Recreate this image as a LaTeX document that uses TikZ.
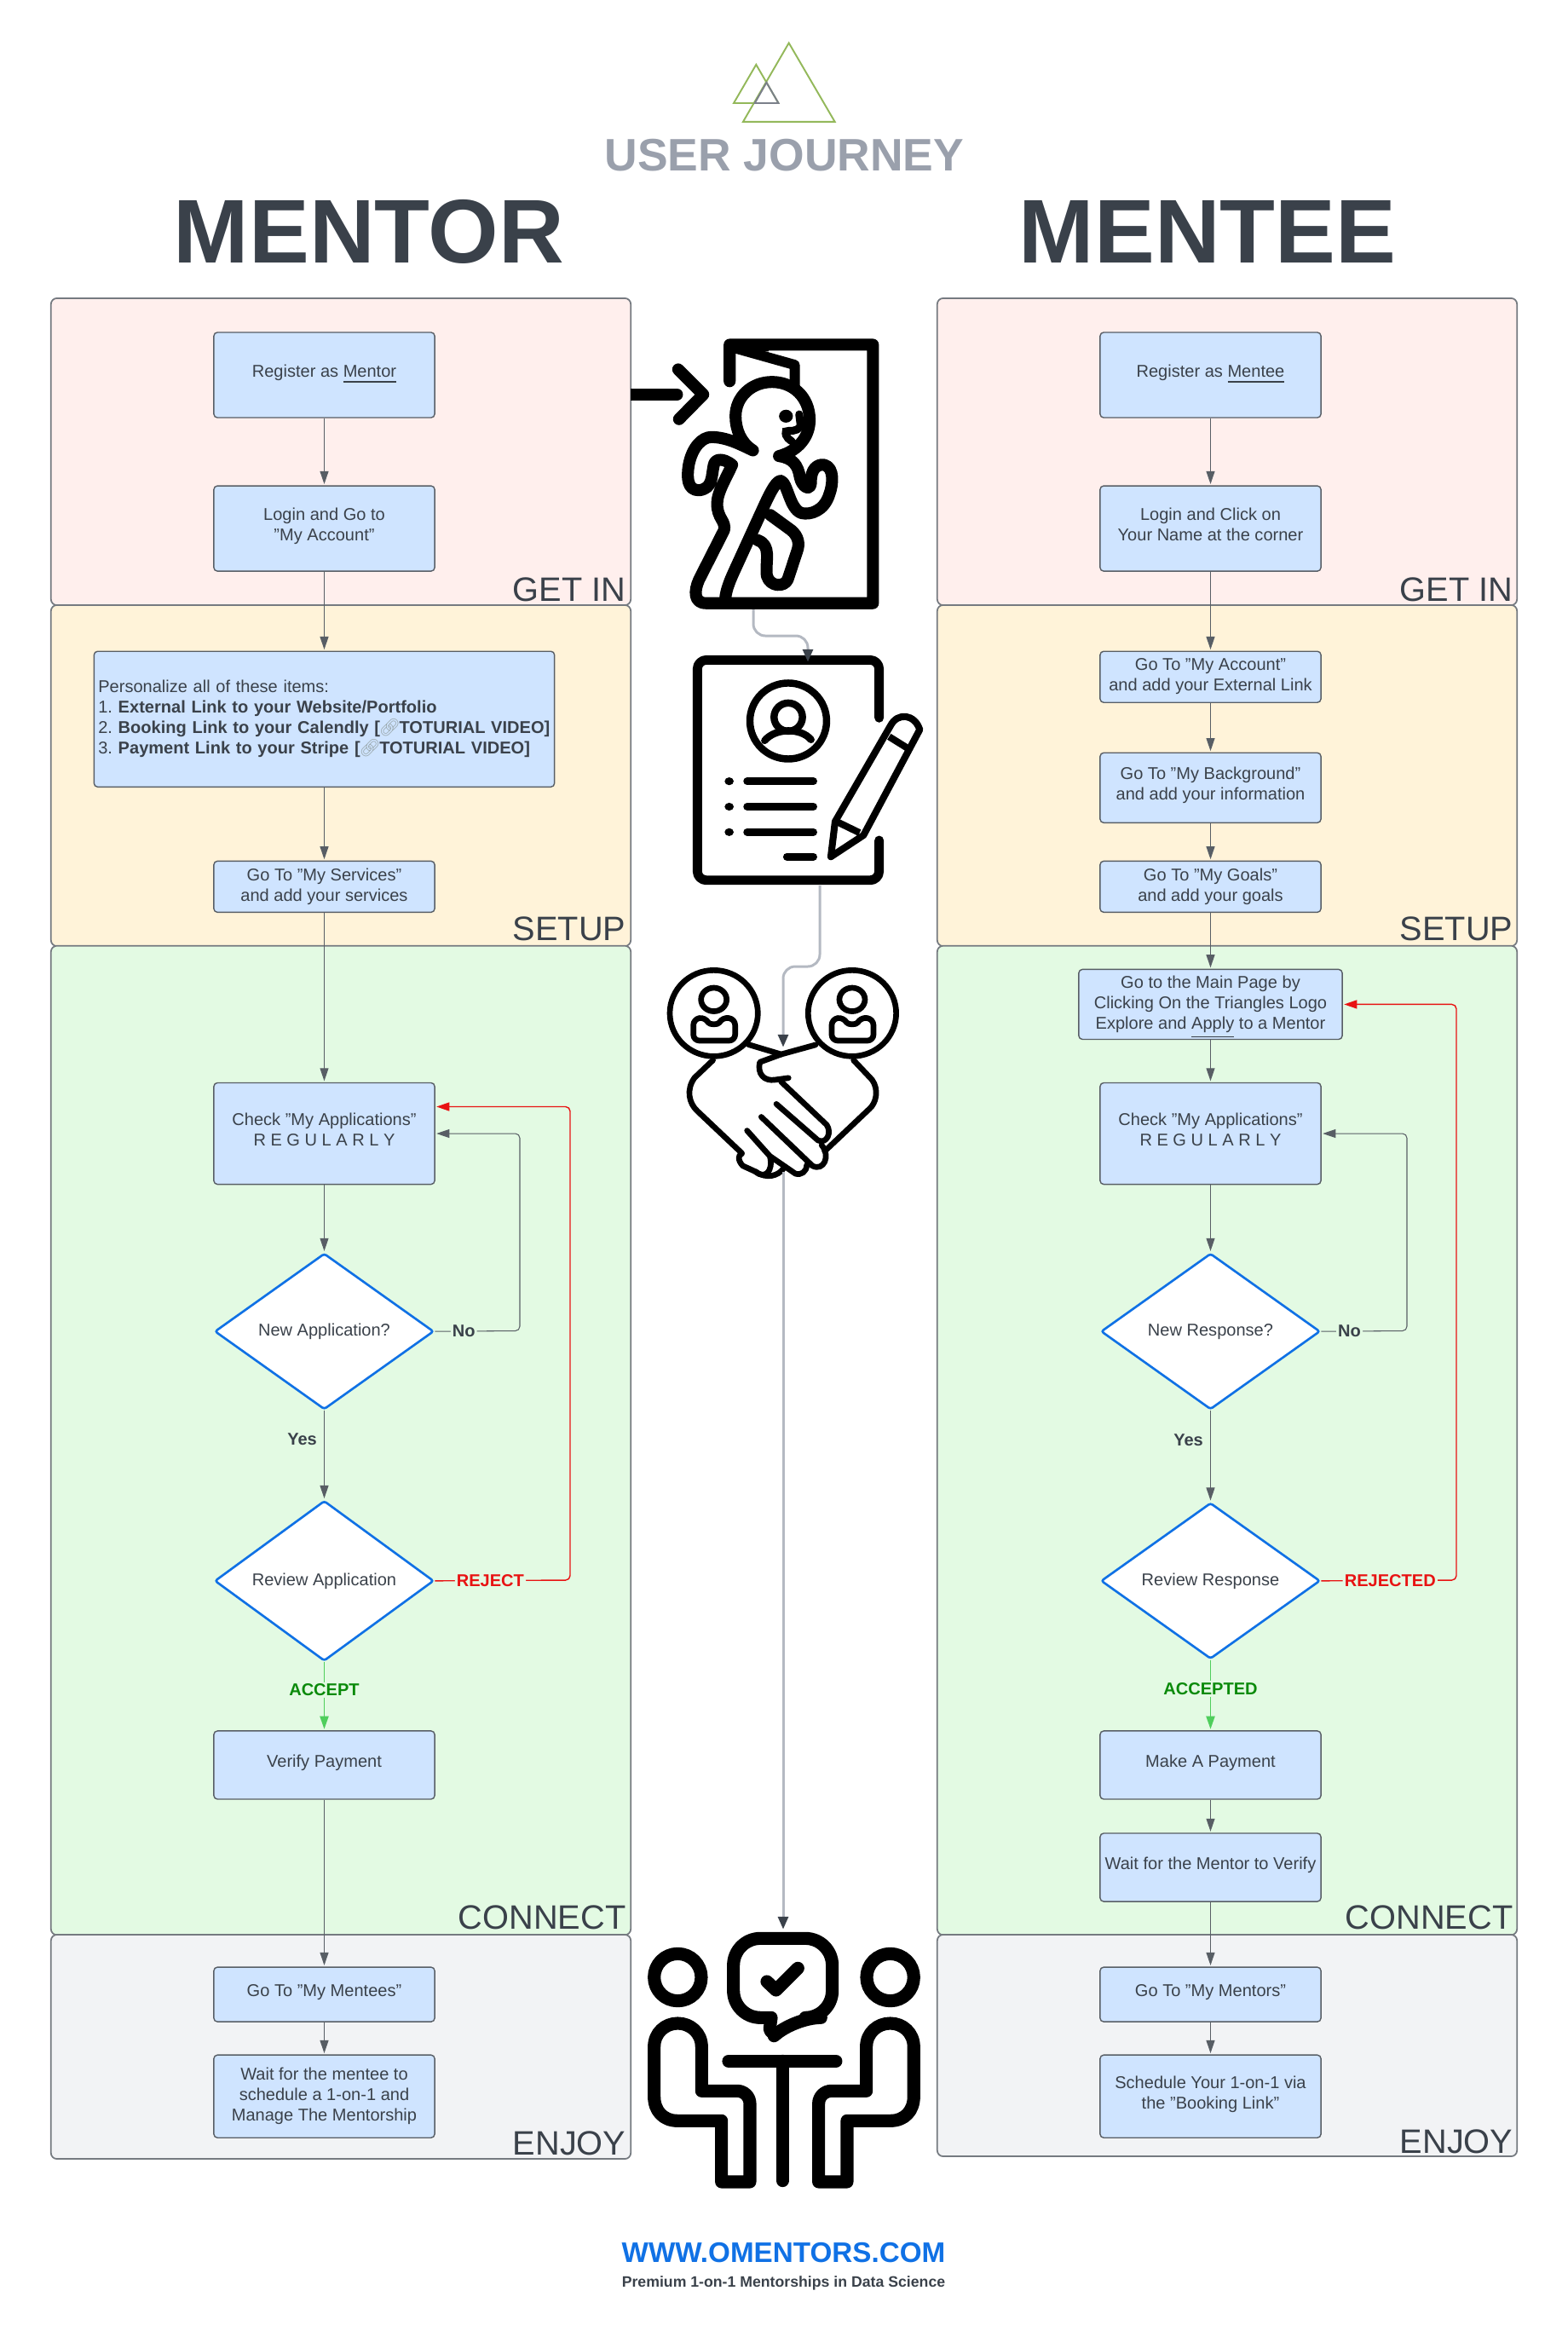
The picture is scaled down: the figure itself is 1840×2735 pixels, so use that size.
\documentclass[tikz,border=0pt]{standalone}
\usepackage{fontspec}
\setmainfont{Liberation Sans}
\newfontfamily\emojifont{Noto Emoji}
\usetikzlibrary{arrows.meta,positioning,shapes.geometric}
\frenchspacing

\definecolor{inkdark}{HTML}{3A414A}
\definecolor{inkgrey}{HTML}{9AA0AC}
\definecolor{linegrey}{HTML}{B4B9C2}
\definecolor{boxblue}{HTML}{CFE4FF}
\definecolor{webblue}{HTML}{1071E5}
\definecolor{getinfill}{HTML}{FFEFED}
\definecolor{setupfill}{HTML}{FFF3D9}
\definecolor{connectfill}{HTML}{E3FAE3}
\definecolor{enjoyfill}{HTML}{F2F3F5}
\definecolor{rejectred}{HTML}{E81313}
\definecolor{acceptlight}{HTML}{4FCE5C}
\definecolor{acceptdark}{HTML}{0A8A0A}
\definecolor{logogreen}{HTML}{93B85A}
\definecolor{chaingrey}{HTML}{9AA8AC}

\newcommand{\chain}{\makebox[6.4pt][c]{\emojifont\mdseries\color{chaingrey}\symbol{"1F517}}}

\begin{document}
\begin{tikzpicture}[x=0.01cm,y=-0.01cm,on grid,>={Triangle[length=4.3pt,width=2.85pt]},shorten >=0.4pt]
  \tikzstyle{panel}=[draw=inkdark!70,line width=0.5pt,rounded corners=2pt,inner sep=0pt,outer sep=0pt,minimum width=6.8cm,shorten >=0pt]
  \tikzstyle{phase}=[anchor=base east,inner sep=0pt,text=inkdark,font=\fontsize{11.3}{12}\selectfont]
  \tikzstyle{flowbox}=[draw=inkdark!85,fill=boxblue,line width=0.4pt,rounded corners=1.2pt,minimum width=2.59cm,inner sep=1pt,text depth=2.6pt,
    align=center,text=inkdark,font=\fontsize{5.7}{6.83}\selectfont]
  \tikzstyle{slimbox}=[flowbox,text depth=1.4pt]
  \tikzstyle{decide}=[diamond,draw=webblue,fill=white,line width=0.75pt,rounded corners=0.8pt,minimum width=2.57cm,minimum height=1.83cm,inner sep=0pt,
    align=center,text=inkdark,font=\fontsize{5.7}{6.83}\selectfont]
  \tikzstyle{flow}=[draw=inkdark!85,line width=0.3pt,->]
  \tikzstyle{rejectflow}=[draw=rejectred,line width=0.4pt,->,rounded corners=1.5pt]
  \tikzstyle{acceptflow}=[draw=acceptlight,line width=0.55pt,->]
  \tikzstyle{iconflow}=[draw=linegrey,line width=0.85pt,rounded corners=4pt,-{Triangle[length=4.2pt,width=3.4pt,color=inkdark]}]
  \tikzstyle{choice}=[inner sep=0.6pt,text=inkdark,font=\bfseries\fontsize{5.7}{6.83}\selectfont]
  \tikzstyle{icon}=[line width=4pt,line cap=round,line join=round]

  \useasboundingbox (0,0) rectangle (1840,2735);

  % title
  \draw[logogreen,line width=0.55pt] (925.7,50.4) -- (979.6,142.8) -- (872,142.8) -- cycle;
  \draw[logogreen,line width=0.55pt] (887.3,75.8) -- (913.5,121) -- (861,121) -- cycle;
  \draw[inkgrey!80!black,line width=0.55pt] (899.5,96.8) -- (913.5,121) -- (885.7,121) -- cycle;
  \node[text=inkgrey,font=\bfseries\fontsize{15.2}{16}\selectfont,anchor=base,inner sep=0pt] (title) at (920.5,200) {USER JOURNEY};
  \node[text=inkdark,font=\bfseries\fontsize{30.2}{32}\selectfont,anchor=base,inner sep=0pt] (mentor) at (433,308) {MENTOR};
  \node[text=inkdark,font=\bfseries\fontsize{30.2}{32}\selectfont,anchor=base,inner sep=0pt] (mentee) at (1417,308) {MENTEE};

  % phase panels
  \node[panel,fill=getinfill,minimum height=3.6cm] (getinL) at (400,530) {};
  \node[panel,fill=setupfill,minimum height=4cm] (setupL) at (400,910) {};
  \node[panel,fill=connectfill,minimum height=11.6cm] (connectL) at (400,1690) {};
  \node[panel,fill=enjoyfill,minimum height=2.63cm] (enjoyL) at (400,2401.5) {};
  \node[panel,fill=getinfill,minimum height=3.6cm] (getinR) at (1440,530) {};
  \node[panel,fill=setupfill,minimum height=4cm] (setupR) at (1440,910) {};
  \node[panel,fill=connectfill,minimum height=11.6cm] (connectR) at (1440,1690) {};
  \node[panel,fill=enjoyfill,minimum height=2.6cm] (enjoyR) at (1440,2400) {};

  \node[phase] (getinLtxt) at (735,705) {GET IN};
  \node[phase] (setupLtxt) at (735,1103) {SETUP};
  \node[phase] (connectLtxt) at (735,2263) {CONNECT};
  \node[phase] (enjoyLtxt) at (735,2528) {ENJOY};
  \node[phase] (getinRtxt) at (1776,705) {GET IN};
  \node[phase] (setupRtxt) at (1776,1103) {SETUP};
  \node[phase] (connectRtxt) at (1776,2263) {CONNECT};
  \node[phase] (enjoyRtxt) at (1776,2526) {ENJOY};

  % mentor column
  \node[flowbox,minimum height=1cm] (registerL) at (380.5,440) {Register as \underline{Mentor}};
  \node[flowbox,minimum height=1cm,below=1.8cm of registerL] (loginL) {Login and Go to\\"My Account"};
  \node[flowbox,minimum height=1.59cm,text depth=,inner xsep=0.05cm,text width=5.3cm,align=left,below=2.235cm of loginL] (itemsL)
    {Personalize all of these items:\\
     1. \textbf{External Link to your Website/Portfolio}\\
     2. \textbf{Booking Link to your Calendly [\chain{}TOTURIAL VIDEO]}\\
     3. \textbf{Payment Link to your Stripe [\chain{}TOTURIAL VIDEO]}};
  \node[slimbox,minimum height=0.6cm,below=1.965cm of itemsL] (servicesL) {Go To "My Services"\\and add your services};
  \node[flowbox,minimum height=1.19cm,below=2.895cm of servicesL] (checkL) {Check "My Applications"\\R E G U L A R L Y};
  \node[decide,below=2.32cm of checkL] (newL) {New Application?};
  \node[decide,below=2.925cm of newL] (reviewL) {Review Application};
  \node[flowbox,minimum height=0.8cm,below=2.16cm of reviewL] (verifyL) {Verify Payment};
  \node[flowbox,minimum height=0.64cm,below=2.69cm of verifyL] (menteesL) {Go To "My Mentees"};
  \node[slimbox,minimum height=0.97cm,below=1.195cm of menteesL] (waitL) {Wait for the mentee to\\schedule a 1-on-1 and\\Manage The Mentorship};

  % mentee column
  \node[flowbox,minimum height=1cm] (registerR) at (1420.5,440) {Register as \underline{Mentee}};
  \node[flowbox,minimum height=1cm,below=1.8cm of registerR] (loginR) {Login and Click on\\Your Name at the corner};
  \node[slimbox,minimum height=0.6cm,below=1.74cm of loginR] (accountR) {Go To "My Account"\\and add your External Link};
  \node[flowbox,minimum height=0.82cm,below=1.3cm of accountR] (backgroundR) {Go To "My Background"\\and add your information};
  \node[slimbox,minimum height=0.6cm,below=1.16cm of backgroundR] (goalsR) {Go To "My Goals"\\and add your goals};
  \node[slimbox,minimum height=0.82cm,minimum width=3.09cm,below=1.38cm of goalsR] (mainR)
    {Go to the Main Page by\\Clicking On the Triangles Logo\\Explore and \underline{Apply} to a Mentor};
  \node[flowbox,minimum height=1.19cm,below=1.515cm of mainR] (checkR) {Check "My Applications"\\R E G U L A R L Y};
  \node[decide,below=2.32cm of checkR] (newR) {New Response?};
  \node[decide,below=2.925cm of newR] (reviewR) {Review Response};
  \node[flowbox,minimum height=0.8cm,below=2.16cm of reviewR] (paymentR) {Make A Payment};
  \node[flowbox,minimum height=0.8cm,below=1.2cm of paymentR] (waitmentorR) {Wait for the Mentor to Verify};
  \node[flowbox,minimum height=0.64cm,below=1.49cm of waitmentorR] (mentorsR) {Go To "My Mentors"};
  \node[flowbox,minimum height=0.97cm,below=1.195cm of mentorsR] (scheduleR) {Schedule Your 1-on-1 via\\the "Booking Link"};

  \coordinate (noturnL) at (610,1561.5);
  \coordinate (rejectturnL) at (669,1854);
  \coordinate (noturnR) at (1651,1561.5);
  \coordinate (rejectturnR) at (1709,1854);

  % mentor connectors
  \draw[flow] (registerL) -- (loginL);
  \draw[flow] (loginL) -- (itemsL);
  \draw[flow] (itemsL) -- (servicesL);
  \draw[flow] (servicesL) -- (checkL);
  \draw[flow] (checkL) -- (newL);
  \draw[flow] (newL) -- node[choice,pos=.32,left=.06cm] {Yes} (reviewL);
  \draw[acceptflow] (reviewL) -- node[choice,pos=.41,fill=connectfill,text=acceptdark] {ACCEPT} (verifyL);
  \draw[flow,rounded corners=1.5pt] (newL.east) -- node[choice,pos=.34,fill=connectfill] {No} (noturnL) |- (checkL.east);
  \draw[rejectflow] (reviewL.east) -- node[choice,pos=.41,fill=connectfill,text=rejectred] {REJECT} (rejectturnL) |- ([yshift=0.315cm]checkL.east);
  \draw[flow] (verifyL) -- (menteesL);
  \draw[flow] (menteesL) -- (waitL);

  % mentee connectors
  \draw[flow] (registerR) -- (loginR);
  \draw[flow] (loginR) -- (accountR);
  \draw[flow] (accountR) -- (backgroundR);
  \draw[flow] (backgroundR) -- (goalsR);
  \draw[flow] (goalsR) -- (mainR);
  \draw[flow] (mainR) -- (checkR);
  \draw[flow] (checkR) -- (newR);
  \draw[flow] (newR) -- node[choice,pos=.32,left=.06cm] {Yes} (reviewR);
  \draw[acceptflow] (reviewR) -- node[choice,pos=.41,fill=connectfill,text=acceptdark] {ACCEPTED} (paymentR);
  \draw[flow,rounded corners=1.5pt] (newR.east) -- node[choice,pos=.33,fill=connectfill] {No} (noturnR) |- (checkR.east);
  \draw[rejectflow] (reviewR.east) -- node[choice,pos=.51,fill=connectfill,text=rejectred] {REJECTED} (rejectturnR) |- (mainR.east);
  \draw[flow] (paymentR) -- (waitmentorR);
  \draw[flow] (waitmentorR) -- (mentorsR);
  \draw[flow] (mentorsR) -- (scheduleR);

  % door icon
  \begin{scope}[shift={(600,20)},xscale=0.408,yscale=0.446]
    \draw[icon,line cap=butt] (343,993) -- (400,993);
    \draw[icon] (400,993) -- (480,993);
    \draw[icon] (480,927) -- (552,993) -- (480,1060);
    \draw[icon] (628,958) -- (628,862) -- (1040,862) -- (1040,1542) -- (560,1542)
      .. controls (525,1542) and (525,1510) .. (540,1480) -- (612,1350)
      .. controls (618,1325) and (592,1320) .. (592,1280) .. controls (592,1250) and (620,1210) .. (635,1178)
      .. controls (610,1160) and (585,1160) .. (582,1180) .. controls (575,1210) and (580,1240) .. (540,1245)
      .. controls (505,1245) and (505,1210) .. (510,1180) .. controls (520,1130) and (550,1105) .. (575,1105)
      .. controls (620,1105) and (660,1125) .. (695,1140)
      .. controls (660,1120) and (645,1085) .. (645,1050) .. controls (645,1000) and (690,960) .. (750,960)
      .. controls (810,960) and (858,1000) .. (858,1060) .. controls (858,1100) and (830,1140) .. (770,1155)
      .. controls (810,1160) and (825,1180) .. (830,1210) .. controls (835,1235) and (860,1250) .. (862,1225)
      .. controls (860,1190) and (880,1175) .. (900,1178) .. controls (930,1185) and (925,1230) .. (915,1255)
      .. controls (900,1300) and (860,1310) .. (835,1305) .. controls (800,1295) and (795,1225) .. (775,1220)
      .. controls (760,1220) and (740,1260) .. (720,1300) -- (640,1460) .. controls (625,1490) and (615,1515) .. (615,1542);
    \draw[icon] (745,1310) -- (805,1350) .. controls (825,1365) and (830,1385) .. (822,1405) -- (795,1480)
      .. controls (785,1500) and (745,1500) .. (735,1470) .. controls (730,1430) and (750,1390) .. (705,1375);
    \draw[icon,line width=3.4pt] (640,870) -- (815,915) -- (815,975);
    \fill[icon] (628,862) -- (740,862) -- (740,880) -- (640,880) -- cycle;
    \fill (790,1050) circle[x radius=20,y radius=17];
    \draw[line width=2.6pt,line cap=round] (828,1045) -- (832,1075) .. controls (820,1095) and (800,1085) .. (790,1090) .. controls (785,1105) and (805,1115) .. (810,1118);
  \end{scope}
  \coordinate (doorfoot) at (884,715);

  % form icon
  \begin{scope}[shift={(740,700)},xscale=0.3333,yscale=0.459]
    \draw[icon,line width=3.1pt,rounded corners=3pt] (875,310) -- (875,162) -- (235,162) -- (235,725) -- (875,725) -- (875,620);
    \draw[icon,line width=2.4pt] (555,318) circle[x radius=135,y radius=97];
    \draw[icon,line width=2.4pt] (555,308) circle[x radius=50,y radius=36];
    \draw[icon,line width=2.4pt] (472,368) .. controls (510,335) and (600,335) .. (638,368);
    \foreach \rowy in {472,537,602} {
      \fill (347,\rowy) circle[x radius=16,y radius=10];
      \draw[icon,line width=2.5pt] (410,\rowy) -- (648,\rowy);
    }
    \draw[icon,line width=2.5pt] (550,665) -- (648,665);
    \draw[icon,line width=2.3pt] (705,665) -- (720,575) -- (915,330) .. controls (940,295) and (1000,300) .. (1018,340)
      -- (820,610) -- cycle;
    \draw[icon,line width=2.3pt,line cap=butt] (725,575) -- (810,605);
    \draw[icon,line width=2.3pt,line cap=butt] (910,358) -- (985,392);
  \end{scope}
  \coordinate (formhead) at (948,778);
  \coordinate (formfoot) at (962,1039);
  \coordinate (formbend) at (919,1134);

  % handshake icon
  \begin{scope}[shift={(740,700)},xscale=0.3333,yscale=0.459]
    \foreach \peerx in {293,780} {
      \draw[icon,line width=1.9pt] (\peerx,1065) circle[x radius=155,y radius=110];
      \draw[icon,line width=1.9pt] (\peerx,1030) circle[x radius=45,y radius=30];
      \draw[icon,line width=1.9pt,rounded corners=2pt] (\peerx-72,1135) -- (\peerx-72,1080) -- (\peerx-30,1075)
        .. controls (\peerx-15,1095) and (\peerx+15,1095) .. (\peerx+30,1075) -- (\peerx+75,1080) -- (\peerx+75,1135) -- cycle;
    }
    \draw[icon,line width=1.9pt] (415,1145) -- (530,1170) -- (655,1145);
    \draw[icon,line width=1.9pt] (290,1185) -- (225,1230) .. controls (195,1260) and (205,1295) .. (235,1315) -- (395,1425);
    \draw[icon,line width=1.9pt] (785,1185) -- (850,1235) .. controls (875,1260) and (865,1295) .. (840,1310) -- (680,1420);
    \draw[icon,line width=1.9pt] (530,1170) -- (455,1190) .. controls (445,1220) and (470,1240) .. (510,1235) -- (560,1230);
    \draw[icon,line width=1.9pt] (530,1240) -- (690,1350) .. controls (710,1370) and (690,1400) .. (660,1390) -- (510,1295);
    \draw[icon,line width=1.9pt] (460,1330) -- (640,1455) .. controls (680,1470) and (705,1430) .. (670,1400);
    \draw[icon,line width=1.9pt] (410,1365) -- (490,1430) .. controls (505,1470) and (470,1490) .. (440,1470) -- (395,1455) .. controls (375,1440) and (380,1425) .. (395,1425);
    \draw[icon,line width=1.9pt] (490,1430) -- (580,1475) .. controls (600,1480) and (620,1470) .. (620,1450);
    \draw[icon,line width=1.9pt] (440,1470) .. controls (480,1490) and (520,1480) .. (540,1460);
  \end{scope}
  \coordinate (shakehead) at (919,1230);
  \coordinate (shakefoot) at (919,1375);

  % meeting icon
  \begin{scope}[shift={(720,2220)},scale=0.3333]
    \tikzstyle{meet}=[icon,line width=4.3pt]
    \draw[meet] (226,300) circle[radius=83];
    \draw[meet] (974,300) circle[radius=83];
    \draw[meet,rounded corners=9pt] (555,442) -- (422,442) -- (422,163) -- (770,163) -- (770,442) -- (635,442) -- (575,497);
    \draw[meet] (575,497) .. controls (560,500) and (550,490) .. (550,480) -- (555,442);
    \draw[meet] (540,315) -- (572,345) -- (652,265);
    \draw[meet] (405,595) -- (787,595);
    \draw[meet] (595,595) -- (595,1020);
    \draw[meet] (310,700) -- (310,545) .. controls (310,495) and (270,462) .. (226,462) .. controls (182,462) and (143,495) .. (143,545)
      -- (143,720) .. controls (143,770) and (175,805) .. (225,805) -- (380,805) -- (380,1020) -- (480,1020)
      -- (480,745) .. controls (480,720) and (460,700) .. (435,700) -- cycle;
    \draw[meet] (890,700) -- (890,545) .. controls (890,495) and (930,462) .. (974,462) .. controls (1018,462) and (1057,495) .. (1057,545)
      -- (1057,720) .. controls (1057,770) and (1025,805) .. (975,805) -- (822,805) -- (822,1020) -- (722,1020)
      -- (722,745) .. controls (722,720) and (742,700) .. (767,700) -- cycle;
  \end{scope}
  \coordinate (meethead) at (919,2265);

  % icon connectors
  \coordinate (doorbend) at (884,746);
  \coordinate (formbendtop) at (948,746);
  \coordinate (formbendlow) at (962,1134);
  \draw[iconflow] (doorfoot) -- (doorbend) -- (formbendtop) -- (formhead);
  \draw[iconflow] (formfoot) -- (formbendlow) -- (formbend) -- (shakehead);
  \draw[iconflow] (shakefoot) -- (meethead);

  % footer
  \node[text=webblue,font=\bfseries\fontsize{9.45}{11}\selectfont,anchor=base,inner sep=0pt] (website) at (919.5,2654) {WWW.OMENTORS.COM};
  \node[text=inkdark,font=\bfseries\fontsize{5.03}{6}\selectfont,anchor=base,inner sep=0pt] (slogan) at (919.5,2683) {Premium 1-on-1 Mentorships in Data Science};
\end{tikzpicture}
\end{document}
